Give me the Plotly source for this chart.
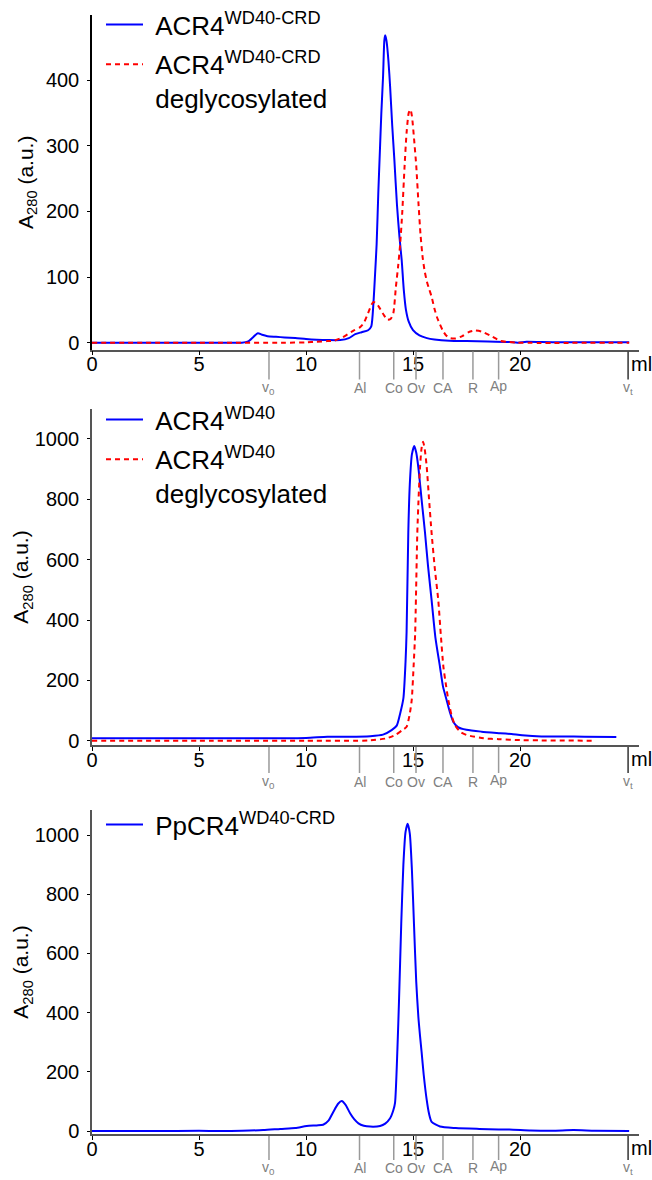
import plotly.graph_objects as go

# ---------------- data ----------------
x_ticks = [0, 5, 10, 15, 20]
marker_labels = ["v<sub>0</sub>", "Al", "Co", "Ov", "CA", "R", "Ap", "v<sub>t</sub>"]
marker_ml = [8.27, 12.5, 14.1, 15.14, 16.4, 17.8, 19.0, 25.05]

p1_blue_x = [0, 2, 4, 6, 7.0, 7.3, 7.55, 7.75, 7.95, 8.2, 8.6, 9.0, 9.5, 10.0, 10.5, 11.0, 11.6,
             12.0, 12.3, 12.6, 12.9, 13.05, 13.15, 13.22, 13.3, 13.38, 13.45, 13.52, 13.6, 13.66,
             13.7, 13.76, 13.85, 13.93, 14.03, 14.13, 14.25, 14.37, 14.47, 14.57, 14.67, 14.8,
             15.0, 15.3, 15.65, 16.0, 16.7, 17.5, 18.5, 19.5, 19.9, 20.3, 21, 22, 25.1]
p1_blue_y = [0, 0, 0, 0, 0, 2, 9, 14.5, 12, 10, 9, 8, 7, 5.5, 4.5, 4, 4,
             7, 13, 16, 19, 25, 60, 100, 150, 230, 290, 350, 405, 460,
             468, 460, 430, 390, 330, 278, 210, 160, 126, 80, 50, 32,
             19, 11, 7, 5, 3, 2.5, 2, 1, 0, 1.5, 1, 0.5, 0.5]

p1_red_x = [0, 5, 9, 10, 10.5, 11, 11.3, 11.7, 12.2, 12.5, 12.7, 12.9, 13.05, 13.15, 13.28, 13.4,
            13.6, 13.8, 13.95, 14.08, 14.2, 14.3, 14.4, 14.5, 14.6, 14.7, 14.8, 14.88, 14.95, 15.05,
            15.15, 15.25, 15.35, 15.45, 15.55, 15.65, 15.75, 15.87, 16.0, 16.13, 16.26, 16.4,
            16.55, 16.73, 17.0, 17.3, 17.6, 17.9, 18.2, 18.6, 19.07, 19.5, 19.85, 25.1]
p1_red_y = [0, 0, 0, 0.5, 1.5, 2.5, 3, 8, 18, 23, 30, 45, 57, 62, 60, 55,
            44, 35, 36, 45, 85, 115, 150, 200, 265, 320, 350, 355, 345, 310,
            270, 215, 165, 130, 108, 93, 82, 70, 52, 38, 28, 18,
            11, 7, 6.5, 10, 16, 18.5, 17, 11, 3, 1, 0, 0]

p2_blue_x = [0, 5, 8, 10, 11, 12, 13, 13.6, 14.0, 14.24, 14.4, 14.55, 14.65, 14.7, 14.78, 14.85,
             14.95, 15.06, 15.15, 15.25, 15.4, 15.56, 15.7, 15.87, 16.05, 16.26, 16.4, 16.57, 16.72,
             16.88, 17.1, 17.5, 18.2, 19.07, 19.6, 20.1, 21, 22, 23, 24.5]
p2_blue_y = [8, 8, 8, 9, 13, 13, 15, 20, 35, 50, 90, 140, 260, 360, 690, 850,
             950, 977, 955, 905, 800, 690, 580, 465, 340, 245, 180, 135, 95,
             63, 45, 36, 30, 25, 22, 18, 14, 14, 13, 12]

p2_red_x = [0, 5, 10, 13, 13.77, 14.2, 14.5, 14.7, 14.85, 14.94, 15.03, 15.1, 15.2, 15.27, 15.33,
            15.4, 15.47, 15.55, 15.64, 15.75, 15.87, 16.02, 16.18, 16.3, 16.42, 16.55, 16.65, 16.8,
            16.96, 17.2, 17.5, 18.3, 19, 20, 21, 23.5]
p2_red_y = [0, 0, 0, 1, 8, 20, 35, 46, 90, 135, 250, 356, 687, 820, 908,
            970, 991, 965, 908, 800, 687, 570, 466, 350, 245, 180, 135, 85,
            52, 30, 19, 8, 5, 2, 1, 0]

p3_blue_x = [0, 3, 5, 6, 7, 8, 8.8, 9.5, 10.03, 10.5, 10.8, 11.05, 11.28, 11.5, 11.67, 11.85,
             12.06, 12.25, 12.45, 12.7, 13.0, 13.46, 13.7, 13.93, 14.08, 14.16, 14.27, 14.35, 14.45,
             14.55, 14.65, 14.75, 14.85, 14.95, 15.05, 15.15, 15.25, 15.33, 15.4, 15.5, 15.64, 15.75,
             15.87, 16.26, 17, 18.1, 19, 19.5, 20.5, 21.5, 22.5, 23.5, 25.1]
p3_blue_y = [0, 0, 0.5, 0, 1, 3, 7, 10, 17, 19, 21, 35, 65, 92, 101, 88,
             60, 40, 26, 18, 15, 17, 25, 43, 70, 95, 274, 450, 700,
             900, 1010, 1038, 1005, 880, 690, 505, 385, 320, 268, 190, 105, 58,
             31, 15, 10, 7, 5, 5, 2, 1, 3, 1, 0]

p1_ticks = [0, 100, 200, 300, 400]
p23_ticks = [0, 200, 400, 600, 800, 1000]

# ---------------- layout geometry (px) ----------------
W, H = 652, 1180
X_LEFT, X_RIGHT = 92, 639
X_RANGE = [0, 25.56]
panels = [  # top px, bottom px, y range, marker line length, marker label offset
    dict(top=15, bottom=349.5, yr=[-10.35, 499.0], mlen=28, mlab=38),
    dict(top=409, bottom=745, yr=[-14.25, 1099.4], mlen=26, mlab=37),
    dict(top=810, bottom=1134, yr=[-10.1, 1084.5], mlen=24, mlab=34),
]
FONT = "Liberation Sans, Arial, sans-serif"
BLUE = "#0000FF"
RED = "#FF0000"

fig = go.Figure()

def add(xs, ys, name, color, dash, idx, legend):
    fig.add_trace(go.Scatter(
        x=xs, y=ys, mode="lines", name=name,
        line=dict(color=color, width=2, dash=dash, shape="spline", smoothing=0.6),
        xaxis="x" if idx == 1 else f"x{idx}",
        yaxis="y" if idx == 1 else f"y{idx}",
        legend=legend, legendgroup=name + str(idx),
    ))

SP = "&nbsp;"
add(p1_blue_x, p1_blue_y, SP + "ACR4<sup>WD40-CRD</sup>", BLUE, "solid", 1, "legend")
add(p1_red_x, p1_red_y, SP + "ACR4<sup>WD40-CRD</sup><br>" + SP + "deglycosylated", RED, "5px,4px", 1, "legend")
add(p2_blue_x, p2_blue_y, SP + "ACR4<sup>WD40</sup>", BLUE, "solid", 2, "legend2")
add(p2_red_x, p2_red_y, SP + "ACR4<sup>WD40</sup><br>" + SP + "deglycosylated", RED, "5px,4px", 2, "legend2")
add(p3_blue_x, p3_blue_y, SP + "PpCR4<sup>WD40-CRD</sup>", BLUE, "solid", 3, "legend3")

layout = dict(
    template="none",
    width=W, height=H, margin=dict(l=0, r=0, t=0, b=0, pad=0),
    paper_bgcolor="white", plot_bgcolor="white",
    font=dict(family=FONT, color="black", size=20),
    showlegend=True,
)

shapes = []
annotations = []
for i, p in enumerate(panels, start=1):
    sx = "" if i == 1 else str(i)
    h = p["bottom"] - p["top"]
    dom = [1 - p["bottom"] / H, 1 - p["top"] / H]
    layout["xaxis" + sx] = dict(
        domain=[X_LEFT / W, X_RIGHT / W], range=X_RANGE, anchor="y" + sx,
        automargin=False,
        showline=True, linecolor="#555555", linewidth=1.5,
        ticks="outside", ticklen=4, tickcolor="black", tickwidth=1,
        tickvals=x_ticks, showgrid=False, zeroline=False,
        tickfont=dict(size=20, family=FONT, color="black"),
        ticklabelstandoff=-8,
    )
    yt = p1_ticks if i == 1 else p23_ticks
    layout["yaxis" + sx] = dict(
        domain=dom, range=p["yr"], anchor="x" + sx,
        automargin=False,
        showline=True, linecolor="black" if i == 1 else "#555555", linewidth=1.5,
        ticks="outside", ticklen=3, tickcolor="black", tickwidth=1,
        tickvals=yt, showgrid=False, zeroline=False,
        tickfont=dict(size=20, family=FONT, color="black"),
        ticklabelstandoff=4,
        title=dict(text="A<sub>280</sub> (a.u.)", font=dict(size=21, family=FONT, color="black"),
                   standoff=7 if i == 1 else 0),
    )
    for lab, m in zip(marker_labels, marker_ml):
        is_vt = lab.startswith("v<sub>t")
        shapes.append(dict(
            type="line", xref="x" + sx, yref=f"y{sx} domain",
            x0=m, x1=m, y0=-2 / h, y1=-(2 + p["mlen"]) / h,
            line=dict(color="#333333" if is_vt else "#9a9a9a", width=1.5),
        ))
        annotations.append(dict(
            text=lab, xref="x" + sx, yref=f"y{sx} domain", x=m, y=-p["mlab"] / h,
            xanchor="center", yanchor="middle", showarrow=False,
            yshift=2 if lab == "Ap" else 0,
            font=dict(size=14, family=FONT, color="#808080"),
        ))
    annotations.append(dict(
        text="ml", xref="x" + sx, yref=f"y{sx} domain", x=marker_ml[-1], y=-14 / h,
        xanchor="left", yanchor="middle", xshift=1, showarrow=False,
        font=dict(size=20, family=FONT, color="black"),
    ))
    leg_top_px = [1, 396, 801][i - 1]
    layout["legend" + sx] = dict(
        x=101 / W, y=1 - leg_top_px / H, xanchor="left", yanchor="top",
        bgcolor="rgba(0,0,0,0)", borderwidth=0,
        font=dict(size=26, family=FONT, color="black"),
        valign="top", tracegroupgap=3, itemwidth=37,
    )

layout["shapes"] = shapes
layout["annotations"] = annotations
fig.update_layout(**layout)

fig.write_html("out.html", config={"displayModeBar": False},
               post_script="document.body.style.margin='0';")
